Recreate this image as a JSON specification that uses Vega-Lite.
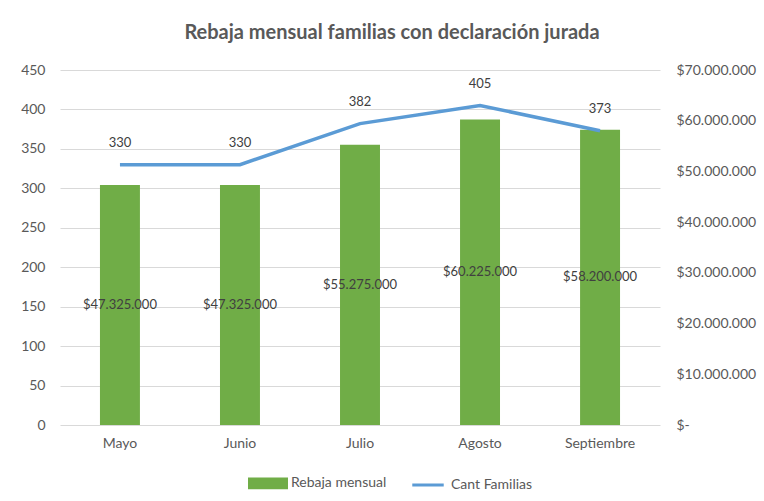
{
  "$schema": "https://vega.github.io/schema/vega-lite/v6.json",
  "width": 600,
  "height": 355,
  "autosize": {"type": "none"},
  "padding": {"left": 60, "top": 70, "right": 104, "bottom": 76},
  "background": "white",
  "title": {
    "text": "Rebaja mensual familias con declaración jurada",
    "fontSize": 20,
    "fontWeight": "bold",
    "color": "#595959",
    "font": "Lato",
    "anchor": "middle",
    "dx": 32,
    "offset": 20
  },
  "config": {
    "font": "Lato",
    "view": {"stroke": null},
    "locale": {"number": {"decimal": ",", "thousands": ".", "grouping": [3], "currency": ["$", ""]}},
    "axis": {"labelColor": "#595959", "labelFontSize": 14, "labelFont": "Lato"}
  },
  "data": {
    "values": [
      {"mes": "Mayo", "rebaja": 47325000, "familias": 330},
      {"mes": "Junio", "rebaja": 47325000, "familias": 330},
      {"mes": "Julio", "rebaja": 55275000, "familias": 382},
      {"mes": "Agosto", "rebaja": 60225000, "familias": 405},
      {"mes": "Septiembre", "rebaja": 58200000, "familias": 373}
    ]
  },
  "encoding": {
    "x": {
      "field": "mes",
      "type": "nominal",
      "sort": null,
      "scale": {"paddingInner": 0.667, "paddingOuter": 0.333},
      "axis": {"title": null, "labelAngle": 0, "domain": false, "ticks": false, "labelPadding": 11, "grid": false}
    }
  },
  "layer": [
    {
      "mark": {"type": "bar"},
      "encoding": {
        "y": {
          "field": "rebaja",
          "type": "quantitative",
          "scale": {"domain": [0, 70000000], "nice": false},
          "axis": {
            "orient": "right",
            "title": null,
            "values": [0, 10000000, 20000000, 30000000, 40000000, 50000000, 60000000, 70000000],
            "format": "$,.0f",
            "labelExpr": "datum.value === 0 ? '$-' : datum.label",
            "labelFontSize": 14,
            "grid": false,
            "domain": false,
            "ticks": false,
            "labelPadding": 16
          }
        },
        "color": {
          "datum": "Rebaja mensual",
          "type": "nominal",
          "scale": {"domain": ["Rebaja mensual", "Cant Familias"], "range": ["#70AD47", "#5B9BD5"]},
          "legend": {
            "title": null,
            "orient": "none",
            "legendX": 188,
            "legendY": 393,
            "direction": "horizontal",
            "labelFontSize": 14,
            "labelColor": "#595959",
            "labelFont": "Lato",
            "columnPadding": 19,
            "labelOffset": 3,
            "symbolSize": 1369,
            "symbolStrokeWidth": 3,
            "encode": {
              "symbols": {
                "update": {
                  "shape": {"signal": "datum.value === 'Cant Familias' ? 'M-0.85,0H0.85' : 'M-1,-0.23H1V0.23H-1Z'"},
                  "fill": {"signal": "datum.value === 'Cant Familias' ? 'transparent' : '#70AD47'"},
                  "stroke": {"signal": "datum.value === 'Cant Familias' ? '#5B9BD5' : 'transparent'"},
                  "strokeWidth": {"value": 3},
                  "opacity": {"value": 1}
                }
              }
            }
          }
        }
      }
    },
    {
      "mark": {"type": "text", "fontSize": 13, "color": "#404040", "baseline": "middle"},
      "encoding": {
        "y": {
          "field": "rebaja",
          "type": "quantitative",
          "scale": {"domain": [0, 140000000], "nice": false},
          "axis": null
        },
        "text": {"field": "rebaja", "type": "quantitative", "format": "$,.0f"}
      }
    },
    {
      "encoding": {
        "y": {
          "field": "familias",
          "type": "quantitative",
          "scale": {"domain": [0, 450], "nice": false},
          "axis": {
            "orient": "left",
            "title": null,
            "values": [0, 50, 100, 150, 200, 250, 300, 350, 400, 450],
            "grid": true,
            "gridColor": "#D9D9D9",
            "gridWidth": 1,
            "domain": false,
            "ticks": false,
            "labelPadding": 15
          }
        }
      },
      "layer": [
        {
          "mark": {"type": "line", "strokeWidth": 3.5},
          "encoding": {
            "color": {"datum": "Cant Familias", "type": "nominal"}
          }
        },
        {
          "mark": {"type": "text", "fontSize": 13, "color": "#404040", "dy": -22, "baseline": "middle"},
          "encoding": {
            "text": {"field": "familias", "type": "quantitative"}
          }
        }
      ]
    }
  ],
  "resolve": {"scale": {"y": "independent"}}
}
